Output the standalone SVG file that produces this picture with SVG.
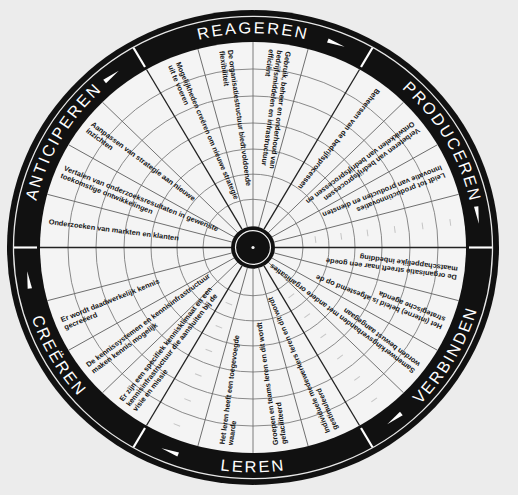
<svg xmlns="http://www.w3.org/2000/svg" width="518" height="495" viewBox="0 0 518 495">
<defs>
<style>
.lbl{font-family:"Liberation Sans","DejaVu Sans",sans-serif;font-size:16.5px;fill:#fff;letter-spacing:2.2px}
.t{font-family:"Liberation Sans",Arial,sans-serif;font-size:7.4px;font-weight:bold;fill:#151515}
.sp{stroke:#6a6a6a;stroke-width:0.9}
.spd{stroke:#222;stroke-width:1.3}
.gc{fill:none;stroke:#7a7a7a;stroke-width:0.9}
.dv{stroke:#fff;stroke-width:2.2}
.mk{fill:#fff}
.tk{stroke:#c4c4c4;stroke-width:1}
</style>
<path id="pREA" d="M -127.3 -181.9 A 222 222 0 0 1 127.3 -181.9"/>
<path id="pPRO" d="M 93.8 -201.2 A 222 222 0 0 1 221.2 19.4"/>
<path id="pANT" d="M -221.2 19.4 A 222 222 0 0 1 -93.8 -201.2"/>
<path id="pVER" d="M 98.5 211.2 A 233 233 0 0 0 232.1 -20.3"/>
<path id="pLER" d="M -133.6 190.9 A 233 233 0 0 0 133.6 190.9"/>
<path id="pCRE" d="M -232.1 -20.3 A 233 233 0 0 0 -98.5 211.2"/>
</defs>
<rect width="518" height="495" fill="#ececec"/>
<g transform="translate(253,247.5) scale(1,0.965)">
<g id="ring">
<circle r="246" fill="#111"/>
<circle r="239.5" fill="none" stroke="#e8e8e8" stroke-width="1.3"/>
<circle r="213" fill="#f4f4f4"/>
</g>
<g id="grid">
<circle r="50" class="gc"/><circle r="76" class="gc"/><circle r="102" class="gc"/><circle r="129" class="gc"/><circle r="157" class="gc"/><circle r="185" class="gc"/>
</g>
<g id="connectors">
<line x1="22" y1="0" x2="213" y2="0" class="spd"/>
<line x1="22" y1="0" x2="213" y2="0" class="sp" transform="rotate(15)"/>
<line x1="22" y1="0" x2="213" y2="0" class="sp" transform="rotate(30)"/>
<line x1="22" y1="0" x2="213" y2="0" class="sp" transform="rotate(45)"/>
<line x1="22" y1="0" x2="213" y2="0" class="spd" transform="rotate(60)"/>
<line x1="22" y1="0" x2="213" y2="0" class="sp" transform="rotate(75)"/>
<line x1="22" y1="0" x2="213" y2="0" class="sp" transform="rotate(90)"/>
<line x1="22" y1="0" x2="213" y2="0" class="sp" transform="rotate(105)"/>
<line x1="22" y1="0" x2="213" y2="0" class="spd" transform="rotate(120)"/>
<line x1="22" y1="0" x2="213" y2="0" class="sp" transform="rotate(135)"/>
<line x1="22" y1="0" x2="213" y2="0" class="sp" transform="rotate(150)"/>
<line x1="22" y1="0" x2="213" y2="0" class="sp" transform="rotate(165)"/>
<line x1="22" y1="0" x2="213" y2="0" class="spd" transform="rotate(180)"/>
<line x1="22" y1="0" x2="213" y2="0" class="sp" transform="rotate(195)"/>
<line x1="22" y1="0" x2="213" y2="0" class="sp" transform="rotate(210)"/>
<line x1="22" y1="0" x2="213" y2="0" class="sp" transform="rotate(225)"/>
<line x1="22" y1="0" x2="213" y2="0" class="spd" transform="rotate(240)"/>
<line x1="22" y1="0" x2="213" y2="0" class="sp" transform="rotate(255)"/>
<line x1="22" y1="0" x2="213" y2="0" class="sp" transform="rotate(270)"/>
<line x1="22" y1="0" x2="213" y2="0" class="sp" transform="rotate(285)"/>
<line x1="22" y1="0" x2="213" y2="0" class="spd" transform="rotate(300)"/>
<line x1="22" y1="0" x2="213" y2="0" class="sp" transform="rotate(315)"/>
<line x1="22" y1="0" x2="213" y2="0" class="sp" transform="rotate(330)"/>
<line x1="22" y1="0" x2="213" y2="0" class="sp" transform="rotate(345)"/>
</g>
<g id="ticks">
<g transform="rotate(352.5)"><line x1="63" y1="-3.5" x2="63" y2="3.5" class="tk"/><line x1="89" y1="-3.5" x2="89" y2="3.5" class="tk"/><line x1="115.5" y1="-3.5" x2="115.5" y2="3.5" class="tk"/><line x1="143" y1="-3.5" x2="143" y2="3.5" class="tk"/><line x1="171" y1="-3.5" x2="171" y2="3.5" class="tk"/><line x1="199" y1="-3.5" x2="199" y2="3.5" class="tk"/></g>
<g transform="rotate(52.5)"><line x1="63" y1="-3.5" x2="63" y2="3.5" class="tk"/><line x1="89" y1="-3.5" x2="89" y2="3.5" class="tk"/><line x1="115.5" y1="-3.5" x2="115.5" y2="3.5" class="tk"/><line x1="143" y1="-3.5" x2="143" y2="3.5" class="tk"/><line x1="171" y1="-3.5" x2="171" y2="3.5" class="tk"/><line x1="199" y1="-3.5" x2="199" y2="3.5" class="tk"/></g>
<g transform="rotate(112.5)"><line x1="63" y1="-3.5" x2="63" y2="3.5" class="tk"/><line x1="89" y1="-3.5" x2="89" y2="3.5" class="tk"/><line x1="115.5" y1="-3.5" x2="115.5" y2="3.5" class="tk"/><line x1="143" y1="-3.5" x2="143" y2="3.5" class="tk"/><line x1="171" y1="-3.5" x2="171" y2="3.5" class="tk"/><line x1="199" y1="-3.5" x2="199" y2="3.5" class="tk"/></g>
</g>
<g id="dividers">
<line x1="216" y1="0" x2="239" y2="0" class="dv"/>
<line x1="216" y1="0" x2="239" y2="0" class="dv" transform="rotate(60)"/>
<line x1="216" y1="0" x2="239" y2="0" class="dv" transform="rotate(120)"/>
<line x1="216" y1="0" x2="239" y2="0" class="dv" transform="rotate(180)"/>
<line x1="216" y1="0" x2="239" y2="0" class="dv" transform="rotate(240)"/>
<line x1="216" y1="0" x2="239" y2="0" class="dv" transform="rotate(300)"/>
</g>
<g id="markers">
<polygon points="224.8,-9 229.2,-9 227,9" class="mk" transform="rotate(-68.5)"/>
<polygon points="224.8,-9 229.2,-9 227,9" class="mk" transform="rotate(-8.5)"/>
<polygon points="224.8,-9 229.2,-9 227,9" class="mk" transform="rotate(51.5)"/>
<polygon points="224.8,-9 229.2,-9 227,9" class="mk" transform="rotate(111.5)"/>
<polygon points="224.8,-9 229.2,-9 227,9" class="mk" transform="rotate(171.5)"/>
<polygon points="224.8,-9 229.2,-9 227,9" class="mk" transform="rotate(231.5)"/>
</g>
<g id="section-labels">
<text class="lbl"><textPath href="#pREA" startOffset="50%" text-anchor="middle">REAGEREN</textPath></text>
<text class="lbl"><textPath href="#pPRO" startOffset="50%" text-anchor="middle">PRODUCEREN</textPath></text>
<text class="lbl"><textPath href="#pANT" startOffset="50%" text-anchor="middle">ANTICIPEREN</textPath></text>
<text class="lbl"><textPath href="#pVER" startOffset="50%" text-anchor="middle">VERBINDEN</textPath></text>
<text class="lbl"><textPath href="#pLER" startOffset="50%" text-anchor="middle">LEREN</textPath></text>
<text class="lbl"><textPath href="#pCRE" startOffset="50%" text-anchor="middle">CREËREN</textPath></text>
</g>
<g id="A1" transform="rotate(7.5)"><text class="t" x="-206" y="2.6">Onderzoeken van markten en klanten</text></g>
<g id="A2" transform="rotate(22.5)"><text class="t" x="-206" y="-1.6">Vertalen van onderzoeksresultaten in gewenste</text><text class="t" x="-206" y="6.8">toekomstige ontwikkelingen</text></g>
<g id="A3" transform="rotate(37.5)"><text class="t" x="-206" y="-1.6">Aanpassen van strategie aan nieuwe</text><text class="t" x="-206" y="6.8">inzichten</text></g>
<g id="R1" transform="rotate(67.5)"><text class="t" x="-206" y="-1.6">Mogelijkheden creëren om nieuwe strategie</text><text class="t" x="-206" y="6.8">uit te voeren</text></g>
<g id="R2" transform="rotate(82.5)"><text class="t" x="-206" y="-1.6">De organisatiestructuur biedt voldoende</text><text class="t" x="-206" y="6.8">flexibiliteit</text></g>
<g id="R3" transform="rotate(97.5)"><text class="t" x="-206" y="-5.8">Gebruik, beheer en onderhoud van</text><text class="t" x="-206" y="2.6">bedrijfsmiddelen en infrastructuur</text><text class="t" x="-206" y="11">efficiënt</text></g>
<g id="P1" transform="rotate(127.5)"><text class="t" x="-206" y="2.6">Beheersen van de bedrijfsprocessen</text></g>
<g id="P2" transform="rotate(142.5)"><text class="t" x="-206" y="-1.6">Verbeteren van bedrijfsprocessen</text><text class="t" x="-206" y="6.8">Ontwikkelen van bedrijfsprocessen en</text></g>
<g id="P3" transform="rotate(157.5)"><text class="t" x="-206" y="-1.6">Leidt tot productinnovaties</text><text class="t" x="-206" y="6.8">Innovatie van producten en diensten</text></g>
<g id="V1" transform="rotate(187.5)"><text class="t" x="-206" y="-1.6">De organisatie streeft naar een goede</text><text class="t" x="-206" y="6.8">maatschappelijke inbedding</text></g>
<g id="V2" transform="rotate(202.5)"><text class="t" x="-206" y="-1.6">Het (interne) beleid is afgestemd op de</text><text class="t" x="-206" y="6.8">strategische agenda</text></g>
<g id="V3" transform="rotate(217.5)"><text class="t" x="-206" y="-1.6">Samenwerkingsverbanden met andere organisaties</text><text class="t" x="-206" y="6.8">worden bewust aangegaan</text></g>
<g id="L1" transform="rotate(247.5)"><text class="t" x="-206" y="-1.6">Individuele medewerkers leren en dit wordt</text><text class="t" x="-206" y="6.8">gestimuleerd</text></g>
<g id="L2" transform="rotate(262.5)"><text class="t" x="-206" y="-1.6">Groepen en teams leren en dit wordt</text><text class="t" x="-206" y="6.8">gefaciliteerd</text></g>
<g id="L3" transform="rotate(277.5)"><text class="t" x="-206" y="-1.6">Het leren heeft een toegevoegde</text><text class="t" x="-206" y="6.8">waarde</text></g>
<g id="C1" transform="rotate(307.5)"><text class="t" x="-206" y="-5.8">Er zijn een specifiek kennisklimaat en een</text><text class="t" x="-206" y="2.6">kennisinfrastructuur die aansluiten bij de</text><text class="t" x="-206" y="11">visie en missie</text></g>
<g id="C2" transform="rotate(322.5)"><text class="t" x="-206" y="-1.6">De kennissystemen en kennisinfrastructuur</text><text class="t" x="-206" y="6.8">maken kennis mogelijk</text></g>
<g id="C3" transform="rotate(337.5)"><text class="t" x="-206" y="-1.6">Er wordt daadwerkelijk kennis</text><text class="t" x="-206" y="6.8">gecreëerd</text></g>
<g id="hub">
<circle r="22" fill="#111"/>
<circle r="17.5" fill="none" stroke="#f4f4f4" stroke-width="1.2"/>
<circle r="1.6" fill="#f4f4f4"/>
</g>
</g>
</svg>
